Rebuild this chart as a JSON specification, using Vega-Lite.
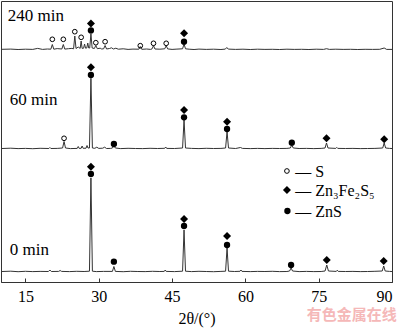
{
 "$schema": "https://vega.github.io/schema/vega-lite/v6.json",
 "width": 391,
 "height": 281,
 "autosize": {"type": "none"},
 "padding": {"left": 1, "top": 1, "right": 8, "bottom": 48},
 "background": "white",
 "config": {"view": {"stroke": "#333", "strokeWidth": 1}, "font": "'Liberation Serif', 'DejaVu Serif', serif"},
 "datasets": {
  "profile": [
   {"s":"0","x":10.2,"y":10.5},{"s":"0","x":12,"y":10.8},{"s":"0","x":13.5,"y":10.3},{"s":"0","x":15,"y":10.7},{"s":"0","x":16.5,"y":10.4},{"s":"0","x":18,"y":10.6},{"s":"0","x":19.7,"y":10.5},{"s":"0","x":20,"y":12},{"s":"0","x":20.3,"y":10.5},{"s":"0","x":21.8,"y":10.6},{"s":"0","x":22.1,"y":11.5},{"s":"0","x":22.4,"y":10.6},{"s":"0","x":24,"y":10.4},{"s":"0","x":25.5,"y":10.7},{"s":"0","x":27,"y":10.5},{"s":"0","x":28.1,"y":10.8},{"s":"0","x":28.4,"y":104},{"s":"0","x":28.7,"y":10.8},{"s":"0","x":29.5,"y":10.4},{"s":"0","x":31,"y":10.6},{"s":"0","x":32.8,"y":10.6},{"s":"0","x":33.1,"y":15.5},{"s":"0","x":33.4,"y":10.6},{"s":"0","x":35,"y":10.3},{"s":"0","x":36.5,"y":10.7},{"s":"0","x":38,"y":10.5},{"s":"0","x":39.5,"y":10.4},{"s":"0","x":41,"y":10.7},{"s":"0","x":42.5,"y":10.5},{"s":"0","x":43.4,"y":10.6},{"s":"0","x":43.6,"y":12},{"s":"0","x":43.8,"y":10.6},{"s":"0","x":45.5,"y":10.4},{"s":"0","x":47.15,"y":10.8},{"s":"0","x":47.45,"y":52},{"s":"0","x":47.75,"y":10.8},{"s":"0","x":49,"y":10.4},{"s":"0","x":50.5,"y":10.7},{"s":"0","x":52,"y":10.5},{"s":"0","x":53.5,"y":10.3},{"s":"0","x":55,"y":10.6},{"s":"0","x":55.95,"y":10.8},{"s":"0","x":56.25,"y":34},{"s":"0","x":56.55,"y":10.8},{"s":"0","x":57.8,"y":10.5},{"s":"0","x":58.9,"y":10.7},{"s":"0","x":59.1,"y":12},{"s":"0","x":59.3,"y":10.6},{"s":"0","x":61,"y":10.4},{"s":"0","x":62.5,"y":10.6},{"s":"0","x":64,"y":10.5},{"s":"0","x":65.5,"y":10.7},{"s":"0","x":67,"y":10.4},{"s":"0","x":68.5,"y":10.5},{"s":"0","x":69.05,"y":11},{"s":"0","x":69.35,"y":14},{"s":"0","x":69.65,"y":11},{"s":"0","x":71,"y":10.4},{"s":"0","x":72.5,"y":10.6},{"s":"0","x":74,"y":10.4},{"s":"0","x":75.5,"y":10.5},{"s":"0","x":76.3,"y":11},{"s":"0","x":76.65,"y":17},{"s":"0","x":77,"y":11},{"s":"0","x":78.6,"y":10.6},{"s":"0","x":78.8,"y":11.8},{"s":"0","x":79,"y":10.6},{"s":"0","x":80.5,"y":10.5},{"s":"0","x":82,"y":10.6},{"s":"0","x":83.5,"y":10.4},{"s":"0","x":85,"y":10.5},{"s":"0","x":86.5,"y":10.7},{"s":"0","x":88,"y":11},{"s":"0","x":88.3,"y":16},{"s":"0","x":88.6,"y":11},{"s":"0","x":89.5,"y":10.6},{"s":"0","x":90,"y":10.5},

   {"s":"60","x":10.2,"y":133.5},{"s":"60","x":12,"y":133.8},{"s":"60","x":13.5,"y":133.4},{"s":"60","x":15,"y":133.6},{"s":"60","x":16.5,"y":133.3},{"s":"60","x":18,"y":133.7},{"s":"60","x":19.8,"y":133.5},{"s":"60","x":20,"y":134.5},{"s":"60","x":20.2,"y":133.5},{"s":"60","x":21.5,"y":133.6},{"s":"60","x":22.6,"y":134},{"s":"60","x":22.9,"y":140.5},{"s":"60","x":23.2,"y":134},{"s":"60","x":24.2,"y":133.4},{"s":"60","x":25.6,"y":133.6},{"s":"60","x":25.8,"y":135.5},{"s":"60","x":26,"y":133.6},{"s":"60","x":26.4,"y":133.7},{"s":"60","x":26.6,"y":136},{"s":"60","x":26.8,"y":133.7},{"s":"60","x":27.4,"y":133.8},{"s":"60","x":27.6,"y":136.5},{"s":"60","x":27.8,"y":134},{"s":"60","x":28.1,"y":134},{"s":"60","x":28.4,"y":203.7},{"s":"60","x":28.7,"y":134},{"s":"60","x":29.2,"y":133.7},{"s":"60","x":29.6,"y":134.8},{"s":"60","x":30,"y":133.6},{"s":"60","x":30.8,"y":133.8},{"s":"60","x":31.2,"y":134.8},{"s":"60","x":31.6,"y":133.5},{"s":"60","x":32.4,"y":133.6},{"s":"60","x":32.8,"y":134},{"s":"60","x":33.1,"y":136.5},{"s":"60","x":33.4,"y":134},{"s":"60","x":34.5,"y":133.4},{"s":"60","x":36,"y":133.7},{"s":"60","x":37.5,"y":133.5},{"s":"60","x":39,"y":133.4},{"s":"60","x":40.5,"y":133.7},{"s":"60","x":42,"y":133.5},{"s":"60","x":43.5,"y":133.7},{"s":"60","x":43.7,"y":135},{"s":"60","x":43.9,"y":133.6},{"s":"60","x":45.5,"y":133.5},{"s":"60","x":47.15,"y":134},{"s":"60","x":47.45,"y":162},{"s":"60","x":47.75,"y":134},{"s":"60","x":49,"y":133.6},{"s":"60","x":50.5,"y":133.4},{"s":"60","x":52,"y":133.7},{"s":"60","x":53.5,"y":133.5},{"s":"60","x":55,"y":133.6},{"s":"60","x":55.95,"y":134},{"s":"60","x":56.25,"y":150.3},{"s":"60","x":56.55,"y":134},{"s":"60","x":58,"y":133.5},{"s":"60","x":59,"y":134.5},{"s":"60","x":59.4,"y":133.6},{"s":"60","x":61,"y":133.4},{"s":"60","x":62.5,"y":133.6},{"s":"60","x":64,"y":133.4},{"s":"60","x":65.5,"y":133.6},{"s":"60","x":67,"y":133.5},{"s":"60","x":68.5,"y":133.6},{"s":"60","x":69.2,"y":134},{"s":"60","x":69.5,"y":137},{"s":"60","x":69.8,"y":134},{"s":"60","x":71,"y":133.5},{"s":"60","x":72.5,"y":133.6},{"s":"60","x":74,"y":133.4},{"s":"60","x":75.5,"y":133.6},{"s":"60","x":76.3,"y":134},{"s":"60","x":76.6,"y":139},{"s":"60","x":76.9,"y":134},{"s":"60","x":78.5,"y":133.6},{"s":"60","x":78.7,"y":134.6},{"s":"60","x":78.9,"y":133.6},{"s":"60","x":80.5,"y":133.5},{"s":"60","x":82,"y":133.6},{"s":"60","x":83.5,"y":133.4},{"s":"60","x":85,"y":133.5},{"s":"60","x":86.5,"y":133.6},{"s":"60","x":88.1,"y":134},{"s":"60","x":88.4,"y":139},{"s":"60","x":88.7,"y":134},{"s":"60","x":89.5,"y":133.6},{"s":"60","x":90,"y":133.5},

   {"s":"240","x":10.2,"y":232.7},{"s":"240","x":12,"y":232.9},{"s":"240","x":13.5,"y":232.5},{"s":"240","x":15,"y":232.8},{"s":"240","x":16.5,"y":232.6},{"s":"240","x":17.5,"y":233.6},{"s":"240","x":18.5,"y":232.6},{"s":"240","x":19.5,"y":233},{"s":"240","x":20.2,"y":232.8},{"s":"240","x":20.5,"y":237.5},{"s":"240","x":20.8,"y":232.8},{"s":"240","x":21.5,"y":233.4},{"s":"240","x":22.45,"y":233},{"s":"240","x":22.75,"y":237.5},{"s":"240","x":23.05,"y":232.9},{"s":"240","x":23.8,"y":233.3},{"s":"240","x":24.5,"y":233.6},{"s":"240","x":24.85,"y":233.2},{"s":"240","x":25.1,"y":246},{"s":"240","x":25.35,"y":233.5},{"s":"240","x":25.8,"y":235},{"s":"240","x":26.2,"y":233.6},{"s":"240","x":26.4,"y":241},{"s":"240","x":26.6,"y":233.6},{"s":"240","x":26.9,"y":233.8},{"s":"240","x":27.1,"y":238},{"s":"240","x":27.3,"y":233.8},{"s":"240","x":27.55,"y":234},{"s":"240","x":27.75,"y":239},{"s":"240","x":27.95,"y":234},{"s":"240","x":28.15,"y":234},{"s":"240","x":28.4,"y":248},{"s":"240","x":28.65,"y":234},{"s":"240","x":29.1,"y":233.5},{"s":"240","x":29.4,"y":236.5},{"s":"240","x":29.7,"y":233.3},{"s":"240","x":30.3,"y":233.8},{"s":"240","x":30.6,"y":233},{"s":"240","x":31,"y":233.2},{"s":"240","x":31.3,"y":236.5},{"s":"240","x":31.6,"y":233},{"s":"240","x":32.2,"y":233.5},{"s":"240","x":32.6,"y":234.2},{"s":"240","x":33,"y":233},{"s":"240","x":33.5,"y":233.8},{"s":"240","x":34,"y":232.8},{"s":"240","x":35,"y":233.2},{"s":"240","x":36,"y":232.6},{"s":"240","x":37,"y":232.9},{"s":"240","x":38.2,"y":232.8},{"s":"240","x":38.5,"y":235.5},{"s":"240","x":38.8,"y":232.7},{"s":"240","x":39.8,"y":233},{"s":"240","x":40.6,"y":232.6},{"s":"240","x":40.9,"y":233.1},{"s":"240","x":41.2,"y":236.3},{"s":"240","x":41.5,"y":233},{"s":"240","x":42.5,"y":232.8},{"s":"240","x":43.5,"y":233.2},{"s":"240","x":43.8,"y":236.3},{"s":"240","x":44.1,"y":233.1},{"s":"240","x":45,"y":232.6},{"s":"240","x":46,"y":232.9},{"s":"240","x":47.15,"y":233.2},{"s":"240","x":47.45,"y":238},{"s":"240","x":47.75,"y":233.2},{"s":"240","x":48.5,"y":232.8},{"s":"240","x":49.5,"y":232.5},{"s":"240","x":50.5,"y":232.9},{"s":"240","x":52,"y":232.6},{"s":"240","x":53.5,"y":232.8},{"s":"240","x":55,"y":232.5},{"s":"240","x":55.9,"y":232.9},{"s":"240","x":56.2,"y":234.5},{"s":"240","x":56.5,"y":232.9},{"s":"240","x":58,"y":232.6},{"s":"240","x":59.5,"y":232.8},{"s":"240","x":61,"y":232.5},{"s":"240","x":62.5,"y":232.8},{"s":"240","x":64,"y":232.6},{"s":"240","x":65.5,"y":232.7},{"s":"240","x":67,"y":232.5},{"s":"240","x":68.5,"y":232.8},{"s":"240","x":70,"y":232.6},{"s":"240","x":71.5,"y":232.7},{"s":"240","x":73,"y":232.5},{"s":"240","x":74.5,"y":232.8},{"s":"240","x":76,"y":232.6},{"s":"240","x":76.6,"y":233.3},{"s":"240","x":77.2,"y":232.6},{"s":"240","x":78.5,"y":232.8},{"s":"240","x":80,"y":232.6},{"s":"240","x":81.5,"y":232.7},{"s":"240","x":83,"y":232.5},{"s":"240","x":84.5,"y":232.7},{"s":"240","x":86,"y":232.6},{"s":"240","x":87.5,"y":232.7},{"s":"240","x":88.4,"y":234},{"s":"240","x":88.9,"y":232.6},{"s":"240","x":90,"y":232.6}
  ],
  "markers": [
   {"k":"diamond","x":28.4,"y":115.3},{"k":"dot","x":28.4,"y":108},{"k":"dot","x":33.1,"y":20.3},{"k":"diamond","x":47.45,"y":63},{"k":"dot","x":47.45,"y":56},{"k":"diamond","x":56.25,"y":46},{"k":"dot","x":56.25,"y":37},{"k":"dot","x":69.35,"y":17},{"k":"diamond","x":76.65,"y":22},{"k":"diamond","x":88.3,"y":21},
   {"k":"open","x":22.9,"y":143.7},{"k":"diamond","x":28.4,"y":214.7},{"k":"dot","x":28.4,"y":207},{"k":"dot","x":33.1,"y":138},{"k":"diamond","x":47.45,"y":172},{"k":"dot","x":47.45,"y":164.7},{"k":"diamond","x":56.25,"y":160.3},{"k":"dot","x":56.25,"y":153},{"k":"dot","x":69.5,"y":139.3},{"k":"diamond","x":76.6,"y":143.7},{"k":"diamond","x":88.4,"y":142.7},
   {"k":"open","x":20.5,"y":242.7},{"k":"open","x":22.75,"y":242.7},{"k":"open","x":25.1,"y":250.3},{"k":"open","x":26.4,"y":244.7},{"k":"open","x":29.4,"y":239.3},{"k":"open","x":31.3,"y":240.3},{"k":"open","x":38.5,"y":236.3},{"k":"open","x":41.2,"y":238.7},{"k":"open","x":43.8,"y":238.7},{"k":"diamond","x":28.4,"y":258.5},{"k":"dot","x":28.4,"y":251.5},{"k":"diamond","x":47.45,"y":248.7},{"k":"dot","x":47.45,"y":240.3},
   {"k":"open","x":68.5,"y":111},{"k":"diamond","x":68.5,"y":92},{"k":"dot","x":68.6,"y":71}
  ],
  "labels": [
   {"x":11.4,"y":266,"t":"240 min"},{"x":11.8,"y":182,"t":"60 min"},{"x":11.8,"y":32,"t":"0 min"}
  ],
  "legend": [
   {"x":70.2,"y":110.5,"t":"— S"},{"x":70.2,"y":91.5,"t":"— Zn₃Fe₂S₅"},{"x":70.2,"y":70.5,"t":"— ZnS"}
  ],
  "wm": [{"x":91.0,"y":-33,"t":"有色金属在线"}]
 },
 "layer": [
  {
   "data": {"name": "profile"},
   "mark": {"type": "line", "color": "#333", "strokeWidth": 1},
   "encoding": {
    "x": {"field": "x", "type": "quantitative", "scale": {"domain": [10, 90], "nice": false, "zero": false},
     "axis": {"values": [15, 30, 45, 60, 75, 90], "tickSize": -4, "tickColor": "#333", "domainColor": "#333", "grid": false,
      "labelFont": "'Liberation Serif', 'DejaVu Serif', serif", "labelFontSize": 16, "labelColor": "#000", "labelPadding": 10,
      "title": "2θ/(°)", "titleFont": "'Liberation Serif', 'DejaVu Serif', serif", "titleFontSize": 16, "titleFontWeight": "normal", "titleColor": "#000", "titlePadding": 6}},
    "y": {"field": "y", "type": "quantitative", "scale": {"domain": [0, 281], "nice": false, "zero": false}, "axis": null},
    "detail": {"field": "s"}
   }
  },
  {
   "data": {"name": "markers"},
   "transform": [{"filter": "datum.k === 'diamond'"}],
   "mark": {"type": "point", "shape": "diamond", "filled": true, "color": "#000", "size": 64, "opacity": 1},
   "encoding": {"x": {"field": "x", "type": "quantitative"}, "y": {"field": "y", "type": "quantitative"}}
  },
  {
   "data": {"name": "markers"},
   "transform": [{"filter": "datum.k === 'dot'"}],
   "mark": {"type": "point", "shape": "circle", "filled": true, "color": "#000", "size": 40, "opacity": 1},
   "encoding": {"x": {"field": "x", "type": "quantitative"}, "y": {"field": "y", "type": "quantitative"}}
  },
  {
   "data": {"name": "markers"},
   "transform": [{"filter": "datum.k === 'open'"}],
   "mark": {"type": "point", "shape": "circle", "filled": false, "stroke": "#000", "strokeWidth": 1, "size": 22, "opacity": 1},
   "encoding": {"x": {"field": "x", "type": "quantitative"}, "y": {"field": "y", "type": "quantitative"}}
  },
  {
   "data": {"name": "labels"},
   "mark": {"type": "text", "align": "left", "baseline": "middle", "font": "'Liberation Serif', 'DejaVu Serif', serif", "fontSize": 17, "color": "#000"},
   "encoding": {"x": {"field": "x", "type": "quantitative"}, "y": {"field": "y", "type": "quantitative"}, "text": {"field": "t"}}
  },
  {
   "data": {"name": "legend"},
   "mark": {"type": "text", "align": "left", "baseline": "middle", "font": "'Liberation Serif', 'DejaVu Serif', serif", "fontSize": 16, "color": "#000"},
   "encoding": {"x": {"field": "x", "type": "quantitative"}, "y": {"field": "y", "type": "quantitative"}, "text": {"field": "t"}}
  },
  {
   "data": {"name": "wm"},
   "mark": {"type": "text", "align": "right", "baseline": "middle", "font": "Noto Sans CJK SC", "fontWeight": "bold", "fontSize": 15, "color": "#f5b8b8", "clip": false},
   "encoding": {"x": {"field": "x", "type": "quantitative"}, "y": {"field": "y", "type": "quantitative"}, "text": {"field": "t"}}
  }
 ]
}
